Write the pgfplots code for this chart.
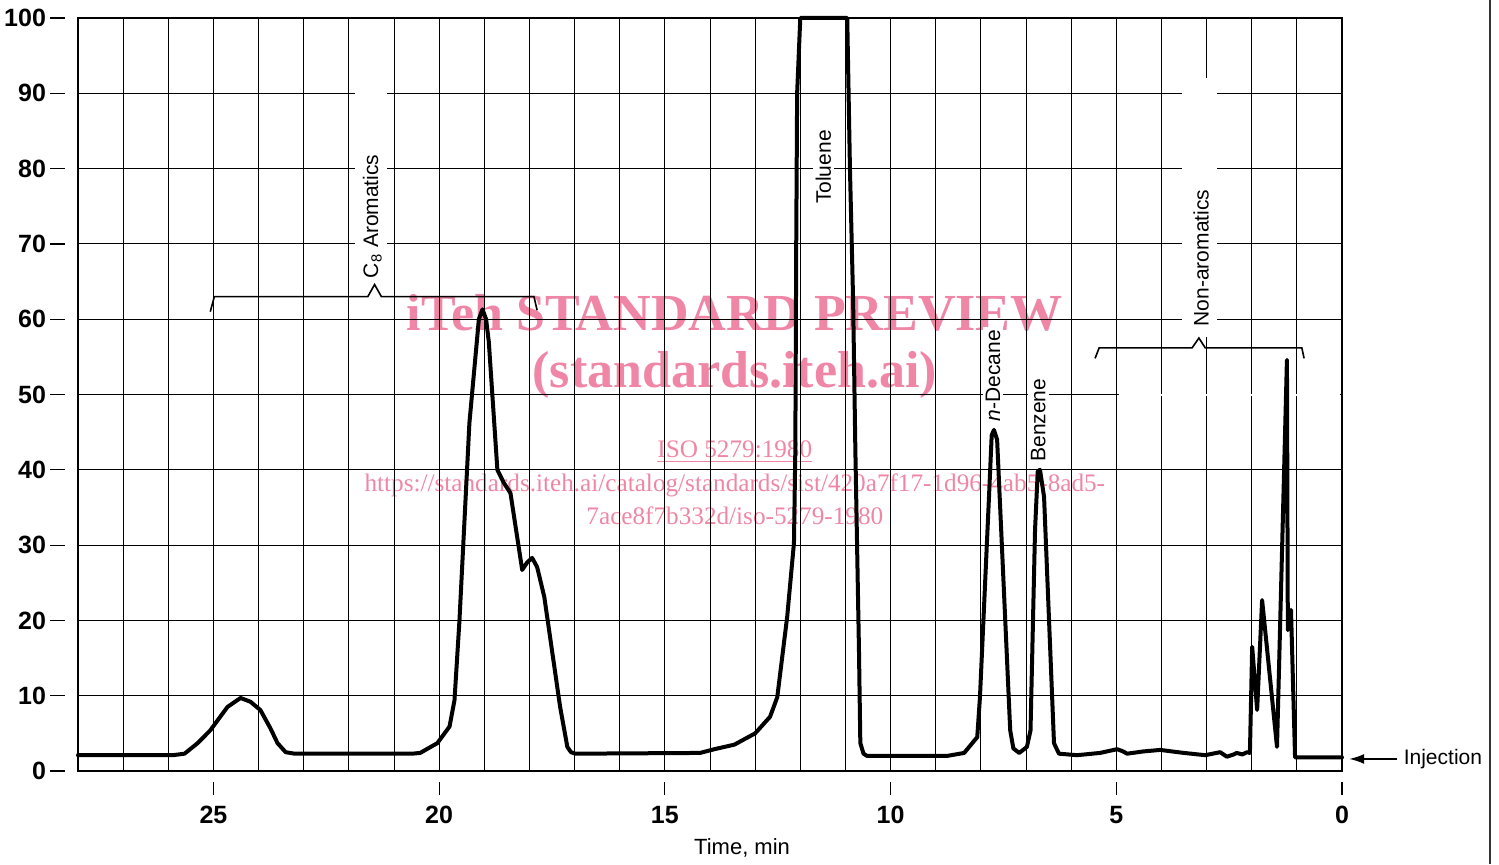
\documentclass[border=0pt]{standalone}
\usepackage{fontspec}
\setmainfont{Liberation Sans}
\newfontfamily\wmfont{Liberation Serif}
\usepackage{pgfplots}
\pgfplotsset{compat=1.18}
\usetikzlibrary{arrows.meta}
\definecolor{wmpink}{HTML}{EF86A6}

\begin{document}
\begin{tikzpicture}
\begin{axis}[
    name=ax,
    set layers=standard,
    scale only axis,
    width=632pt, height=376.5pt,
    x dir=reverse,
    xmin=0, xmax=28, ymin=0, ymax=100,
    xtick={0,5,...,25}, minor xtick={1,...,27},
    ytick={0,10,...,100},
    grid=both,
    major grid style={black, line width=0.5pt},
    minor grid style={black, line width=0.5pt},
    tick style={draw=none},
    axis line style={black, line width=0.7pt},
    xticklabel style={font=\fontsize{12.5}{12.5}\selectfont\bfseries, yshift=-14pt},
    yticklabel style={font=\fontsize{12.5}{12.5}\selectfont\bfseries, xshift=-12.5pt},
    /pgf/number format/assume math mode=true,
    clip=false,
]

% watermark, behind the grid
\begin{pgfonlayer}{axis background}
\node[wmpink, font=\wmfont\bfseries\fontsize{26}{26}\selectfont] at (axis cs:13.45,60.8) {iTeh STANDARD PREVIEW};
\node[wmpink, font=\wmfont\bfseries\fontsize{26}{26}\selectfont] at (axis cs:13.45,52.6) {(standards.iteh.ai)};
\node[wmpink, font=\wmfont\fontsize{12.6}{13}\selectfont] at (axis cs:13.45,42.4) {\underline{ISO 5279:1980}};
\node[wmpink, font=\wmfont\fontsize{12.6}{13}\selectfont] at (axis cs:13.45,38.0) {https://standards.iteh.ai/catalog/standards/sist/420a7f17-1d96-4ab5-8ad5-};
\node[wmpink, font=\wmfont\fontsize{12.6}{13}\selectfont] at (axis cs:13.45,33.9) {7ace8f7b332d/iso-5279-1980};
\end{pgfonlayer}

% detached tick marks
\pgfplotsinvokeforeach{0,5,10,15,20,25}{
  \draw[line width=0.6pt] ([yshift=-5.5pt]axis cs:#1,0) -- ++(0,-6.5pt);
}
\pgfplotsinvokeforeach{0,10,20,30,40,50,60,70,80,90,100}{
  \draw[line width=0.6pt] ([xshift=-6.5pt]axis cs:28,#1) -- ++(-7.5pt,0);
}
\draw[line width=1.3pt] (axis cs:28,0) -- (axis cs:0,0);
\draw[line width=1.3pt] (axis cs:28,100) -- (axis cs:0,100);

% gaps in the grid
\fill[white] (axis cs:21.86,64.8) rectangle (axis cs:21.15,91);
\fill[white] (axis cs:3.55,57.7) rectangle (axis cs:2.78,92);
\draw[white, line width=1.0pt] (axis cs:4.95,50) -- (axis cs:0.05,50);

% chromatogram
\addplot[black, line width=2pt, line join=round, line cap=round] coordinates {
(28.0,2.1) (25.9,2.1) (25.64,2.3) (25.35,3.7) (25.07,5.4) (24.69,8.5)
(24.4,9.7) (24.18,9.2) (23.96,8.1) (23.74,5.7) (23.58,3.7) (23.4,2.5)
(23.2,2.3) (20.6,2.3) (20.42,2.4) (20.04,3.7) (19.77,5.9) (19.66,9.4)
(19.55,20) (19.33,46.2) (19.12,60.0) (19.04,61.3) (18.96,60.0) (18.9,57)
(18.71,40) (18.56,38.2) (18.42,36.9) (18.16,26.7) (18.05,27.7) (17.94,28.3)
(17.83,27.1) (17.67,23.1) (17.32,8.5) (17.16,3.2) (17.08,2.5) (16.98,2.3)
(14.22,2.4) (13.9,2.9) (13.46,3.5) (13.0,5.0) (12.67,7.2) (12.51,9.8)
(12.29,20.5) (12.14,30.3) (12.11,42.6) (12.09,70) (12.07,90) (12.0,100)
(10.96,100) (10.9,80) (10.83,62.5) (10.78,42.6) (10.7,16) (10.67,3.7)
(10.6,2.3) (10.52,2.0) (8.75,2.0) (8.37,2.4) (8.08,4.5) (8.02,9.8)
(7.82,36.4) (7.76,44.6) (7.71,45.3) (7.64,44) (7.35,5.4) (7.28,3.0)
(7.15,2.4) (6.98,3.2) (6.9,5.4) (6.8,32) (6.74,39.8) (6.69,40)
(6.6,36.4) (6.38,3.7) (6.27,2.3) (5.87,2.1) (5.36,2.4) (4.98,2.9)
(4.85,2.6) (4.76,2.3) (4.4,2.6) (4.03,2.8) (3.5,2.4) (3.03,2.1)
(2.7,2.5) (2.55,1.9) (2.4,2.2) (2.33,2.4) (2.21,2.2) (2.1,2.5)
(2.04,2.4) (2.02,8) (1.99,16.5) (1.88,8.1) (1.77,22.7) (1.44,3.2)
(1.22,54.6) (1.2,18.7) (1.13,21.4) (1.04,1.8) (0.93,1.8) (0.0,1.8)
};

% brackets
\draw[line width=0.8pt] (axis cs:25.07,61.0) -- (axis cs:24.98,63.0) -- (axis cs:21.58,63.0)
  -- (axis cs:21.43,64.6) -- (axis cs:21.28,63.0) -- (axis cs:17.9,63.0) -- (axis cs:17.83,61.2);
\draw[line width=0.8pt] (axis cs:5.47,54.8) -- (axis cs:5.38,56.2) -- (axis cs:3.32,56.2)
  -- (axis cs:3.17,57.5) -- (axis cs:3.03,56.2) -- (axis cs:0.89,56.2) -- (axis cs:0.84,54.8);

% peak labels
\tikzset{plab/.style={rotate=90, fill=white, inner sep=1.5pt, font=\fontsize{10.5}{12}\selectfont}}
\node[plab, anchor=west, fill=none] at (axis cs:21.48,65.0) {C\textsubscript{8} Aromatics};
\node[plab, anchor=west, fill=none] at (axis cs:3.12,58.6) {Non-aromatics};
\node[plab] at (axis cs:11.49,80.2) {Toluene};
\node[plab] at (axis cs:7.73,52.5) {\textit{n}-Decane};
\node[plab] at (axis cs:6.73,46.6) {Benzene};

% injection marker
\draw[line width=0.8pt, -{Latex[length=7.5pt,width=5pt]}] (axis cs:-1.22,1.6) -- (axis cs:-0.16,1.6);
\node[anchor=west, inner sep=0pt, font=\fontsize{10.5}{12}\selectfont] at (axis cs:-1.36,1.6) {Injection};

% axis title
\node[font=\fontsize{11}{12}\selectfont] at ([yshift=-38.5pt]axis cs:13.29,0) {Time, min};
\end{axis}
\draw[line width=1pt, black!80] ([xshift=74pt,yshift=9pt]ax.north east) -- ([xshift=74pt,yshift=-46.5pt]ax.south east);
\pgfresetboundingbox
\path ([shift={(-39pt,-46.5pt)}]ax.south west) rectangle ([shift={(78.5pt,9pt)}]ax.north east);
\end{tikzpicture}
\end{document}
